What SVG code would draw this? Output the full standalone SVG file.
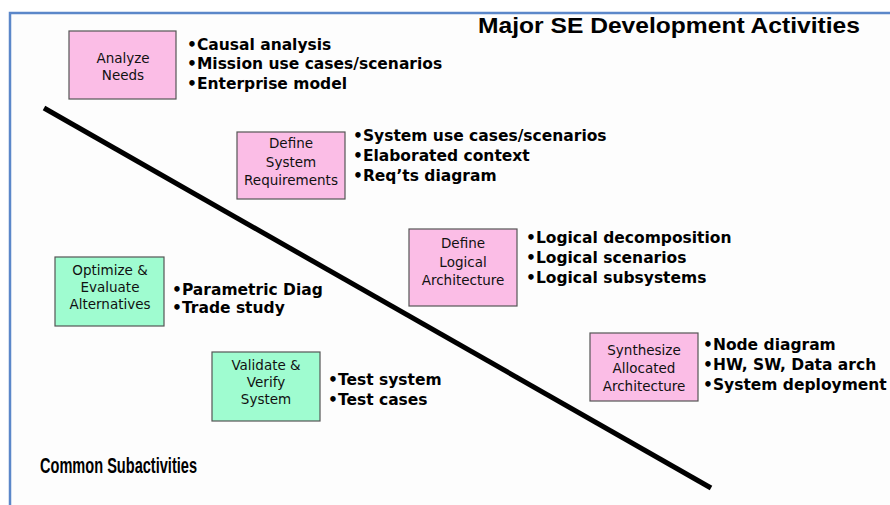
<svg xmlns="http://www.w3.org/2000/svg" width="890" height="505" viewBox="0 0 890 505">
<style>
.bg{fill:#fdfdfd}
.frame{fill:none;stroke:#5b87c9;stroke-width:2.5}
.pink{fill:#fbbde6;stroke:#555;stroke-width:1.2}
.green{fill:#9ffcd0;stroke:#555;stroke-width:1.2}
.lbl{font-family:"DejaVu Sans",Verdana,sans-serif;font-size:13.5px;fill:#111;text-anchor:middle}
.bul{font-family:"DejaVu Sans",Verdana,sans-serif;font-size:15.5px;font-weight:bold;fill:#000}
.head{font-family:"Liberation Sans",Arial,sans-serif;font-size:22px;font-weight:bold;fill:#000}
.divider{stroke:#000;stroke-width:5;stroke-linecap:butt}
</style>
<rect x="0" y="0" width="890" height="505" fill="#ffffff"/>
<rect class="bg" x="10" y="13" width="880" height="492"/>
<path class="frame" d="M10,505 V13 H890"/>
<text class="head" x="478" y="33" textLength="382" lengthAdjust="spacingAndGlyphs">Major SE Development Activities</text>
<text class="head" x="40" y="473" font-size="21" textLength="157" lengthAdjust="spacingAndGlyphs">Common Subactivities</text>
<g id="connectors">
<line class="divider" x1="44" y1="108" x2="711" y2="488"/>
</g>
<g id="analyze-needs">
<rect class="pink" x="69" y="31" width="107" height="68"/>
<text class="lbl" x="123" y="63">Analyze</text>
<text class="lbl" x="123" y="80">Needs</text>
<text class="bul" x="187" y="50">•Causal analysis</text>
<text class="bul" x="187" y="69">•Mission use cases/scenarios</text>
<text class="bul" x="187" y="89">•Enterprise model</text>
</g>
<g id="define-system-requirements">
<rect class="pink" x="237" y="132" width="108" height="67"/>
<text class="lbl" x="291" y="148">Define</text>
<text class="lbl" x="291" y="167">System</text>
<text class="lbl" x="291" y="185">Requirements</text>
<text class="bul" x="353" y="141">•System use cases/scenarios</text>
<text class="bul" x="353" y="161">•Elaborated context</text>
<text class="bul" x="353" y="181">•Req’ts diagram</text>
</g>
<g id="define-logical-architecture">
<rect class="pink" x="409" y="229" width="108" height="77"/>
<text class="lbl" x="463" y="248">Define</text>
<text class="lbl" x="463" y="267">Logical</text>
<text class="lbl" x="463" y="285">Architecture</text>
<text class="bul" x="526" y="243">•Logical decomposition</text>
<text class="bul" x="526" y="263">•Logical scenarios</text>
<text class="bul" x="526" y="283">•Logical subsystems</text>
</g>
<g id="optimize-evaluate">
<rect class="green" x="55" y="257" width="109" height="69"/>
<text class="lbl" x="110" y="275">Optimize &amp;</text>
<text class="lbl" x="110" y="292">Evaluate</text>
<text class="lbl" x="110" y="309">Alternatives</text>
<text class="bul" x="172" y="295">•Parametric Diag</text>
<text class="bul" x="172" y="313">•Trade study</text>
</g>
<g id="validate-verify">
<rect class="green" x="212" y="352" width="108" height="69"/>
<text class="lbl" x="266" y="370">Validate &amp;</text>
<text class="lbl" x="266" y="387">Verify</text>
<text class="lbl" x="266" y="404">System</text>
<text class="bul" x="328" y="385">•Test system</text>
<text class="bul" x="328" y="405">•Test cases</text>
</g>
<g id="synthesize-allocated-architecture">
<rect class="pink" x="590" y="333" width="108" height="68"/>
<text class="lbl" x="644" y="355">Synthesize</text>
<text class="lbl" x="644" y="373">Allocated</text>
<text class="lbl" x="644" y="391">Architecture</text>
<text class="bul" x="703" y="350">•Node diagram</text>
<text class="bul" x="703" y="370">•HW, SW, Data arch</text>
<text class="bul" x="703" y="390">•System deployment</text>
</g>
</svg>
